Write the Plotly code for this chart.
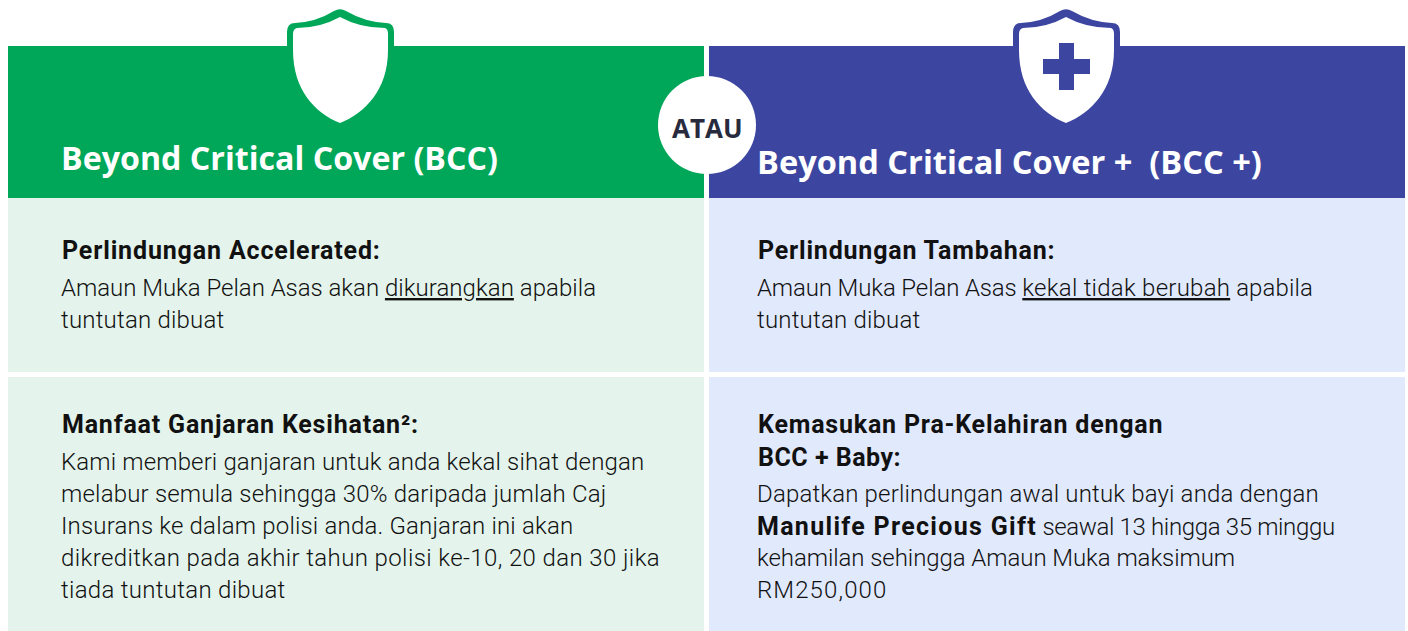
import plotly.graph_objects as go

W, H = 1408, 631
GREEN, BLUE = "#00A758", "#3C46A0"
PALE_GREEN, PALE_BLUE = "#E4F4EC", "#E1E9FC"
INK, ATAU_INK = "#111111", "#282B3E"
BODY_FONT = "Roboto"
HEAD_FONT = "Open Sans"

panels = [
    (8, 704, 46, 198, GREEN), (709, 1405, 46, 198, BLUE),
    (8, 704, 198, 372, PALE_GREEN), (709, 1405, 198, 372, PALE_BLUE),
    (8, 704, 377, 631, PALE_GREEN), (709, 1405, 377, 631, PALE_BLUE),
]


def sp(text, px):
    return f'<span style="letter-spacing:{px}px">{text}</span>'


# x, y, text, size, colour
titles = [
    (60, 157, "Beyond Critical Cover (BCC)", 32.2, "#FFFFFF"),
    (756, 161, "Beyond Critical Cover +  (BCC +)", 32.6, "#FFFFFF"),
]
# x, y, text, letter spacing
bold_lines = [
    (61, 250, "Perlindungan Accelerated:", 0.85),
    (757, 250, "Perlindungan Tambahan:", 0.8),
    (61, 424, "Manfaat Ganjaran Kesihatan²:", 0.8),
    (757, 424, "Kemasukan Pra-Kelahiran dengan", 0.8),
    (757, 457, "BCC + Baby:", 0.5),
]
body_lines = [
    (60, 288, sp("Amaun Muka Pelan Asas akan ", -0.03) + "<u>" + sp("dikurangkan", 0.04) + "</u>" + sp(" apabila", 0.04)),
    (60, 320, sp("tuntutan dibuat", 0.2)),
    (756, 288, sp("Amaun Muka Pelan Asas ", -0.13) + "<u>" + sp("kekal tidak berubah", 0.25) + "</u>" + sp(" apabila", 0.1)),
    (756, 320, sp("tuntutan dibuat", 0.2)),
    (60, 462, sp("Kami memberi ganjaran untuk anda kekal sihat dengan", 0.14)),
    (60, 494, sp("melabur semula sehingga 30% daripada jumlah Caj", 0.19)),
    (60, 526, sp("Insurans ke dalam polisi anda. Ganjaran ini akan", 0.18)),
    (60, 558, sp("dikreditkan pada akhir tahun polisi ke-10, 20 dan 30 jika", 0.39)),
    (60, 590, sp("tiada tuntutan dibuat", 0.29)),
    (756, 494, sp("Dapatkan perlindungan awal untuk bayi anda dengan", 0.16)),
    (756, 526, '<span style="font-size:25px;font-weight:700;letter-spacing:1.3px">Manulife Precious Gift</span>'
     + sp(" seawal 13 hingga 35 minggu", -0.35)),
    (756, 558, sp("kehamilan sehingga Amaun Muka maksimum", -0.07)),
    (756, 590, sp("RM250,000", 1.1)),
]


def shield(dx, colour):
    outer = (f"M{334+dx},11 Q{340+dx},7.5 {346+dx},11 Q{365+dx},22 {386+dx},23 "
             f"Q{394+dx},23 {394+dx},32 L{394+dx},47 L{287+dx},47 L{287+dx},32 "
             f"Q{287+dx},23 {295+dx},23 Q{316+dx},22 {334+dx},11 Z")
    inner = (f"M{340+dx},17 Q{360+dx},28 {385+dx},28 Q{388+dx},29 {388+dx},34 L{388+dx},50 "
             f"C{388+dx},90 {365+dx},113 {340+dx},123 C{315+dx},113 {293+dx},90 {293+dx},50 "
             f"L{293+dx},34 Q{293+dx},29 {297+dx},28 Q{320+dx},28 {340+dx},17 Z")
    return [dict(type="path", path=outer, fillcolor=colour, line_width=0),
            dict(type="path", path=inner, fillcolor="#FFFFFF", line_width=0)]


shapes = [dict(type="rect", x0=a, x1=b, y0=c, y1=d, fillcolor=col, line_width=0)
          for a, b, c, d, col in panels]
shapes += shield(0, GREEN) + shield(726, BLUE)
shapes.append(dict(type="path", fillcolor=BLUE, line_width=0,
                   path="M1059,43 H1074 V59 H1090 V74 H1074 V90 H1059 V74 H1043 V59 H1059 Z"))
shapes.append(dict(type="circle", x0=658, x1=756, y0=76, y1=174, fillcolor="#FFFFFF", line_width=0))


def label(x, y, text, size, colour, weight=400, family=BODY_FONT, anchor="left"):
    return dict(x=x, y=y, text=text, xref="x", yref="y", xanchor=anchor, yanchor="middle",
                showarrow=False, align="left", borderpad=0,
                font=dict(family=family, size=size, color=colour, weight=weight))


annotations = [label(x, y, t, s, c, 700, HEAD_FONT) for x, y, t, s, c in titles]
annotations += [label(x, y, sp(t, p), 25, INK, 700) for x, y, t, p in bold_lines]
annotations += [label(x, y, t, 24, INK, 300) for x, y, t in body_lines]
annotations.append(label(707, 128, "ATAU", 26, ATAU_INK, 700, HEAD_FONT, "center"))

fig = go.Figure()
fig.update_layout(width=W, height=H, margin=dict(l=0, r=0, t=0, b=0), autosize=False,
                  paper_bgcolor="#FFFFFF", plot_bgcolor="#FFFFFF", showlegend=False,
                  shapes=shapes, annotations=annotations,
                  xaxis=dict(range=[0, W], visible=False, fixedrange=True),
                  yaxis=dict(range=[H, 0], visible=False, fixedrange=True))
fig.write_html("out.html", config=dict(displayModeBar=False),
               post_script="document.body.style.margin='0';document.body.style.overflow='hidden';")
